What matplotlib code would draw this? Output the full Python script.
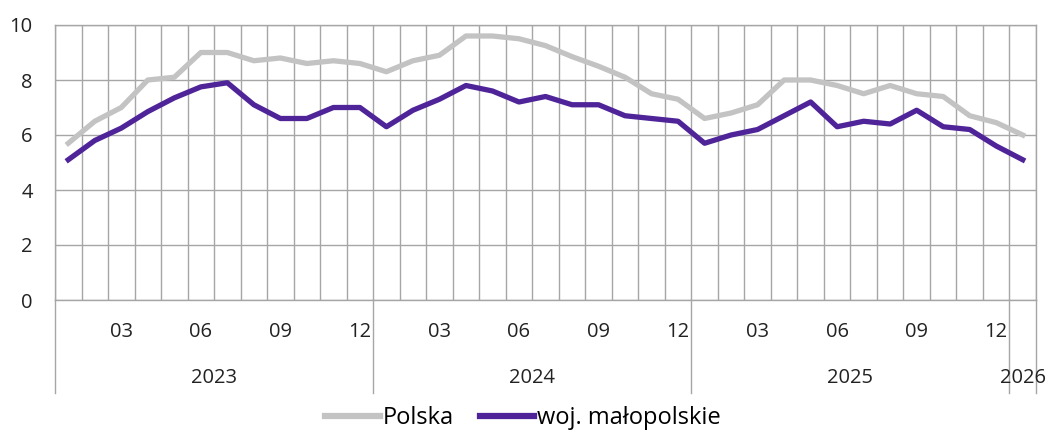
import matplotlib
matplotlib.use("Agg")
import matplotlib.pyplot as plt
import numpy as np

plt.rcParams['font.family'] = ['Open Sans', 'DejaVu Sans']

# monthly data, 2023-01 .. 2026-01
months = ["01", "02", "03", "04", "05", "06", "07", "08", "09", "10", "11", "12"] * 3 + ["01"]
years = ["2023", "2024", "2025", "2026"]
polska = [5.7, 6.5, 7.0, 8.0, 8.1, 9.0, 9.0, 8.7, 8.8, 8.6, 8.7, 8.6,
          8.3, 8.7, 8.9, 9.6, 9.6, 9.5, 9.25, 8.85, 8.5, 8.1, 7.5, 7.3,
          6.6, 6.8, 7.1, 8.0, 8.0, 7.8, 7.5, 7.8, 7.5, 7.4, 6.7, 6.45, 6.0]
malopolskie = [5.1, 5.8, 6.25, 6.85, 7.35, 7.75, 7.9, 7.1, 6.6, 6.6, 7.0, 7.0,
               6.3, 6.9, 7.3, 7.8, 7.6, 7.2, 7.4, 7.1, 7.1, 6.7, 6.6, 6.5,
               5.7, 6.0, 6.2, 6.7, 7.2, 6.3, 6.5, 6.4, 6.9, 6.3, 6.2, 5.6, 5.1]
series_names = ["Polska", "woj. małopolskie"]

grid_col = "#a6a6a6"
col_pl = "#c3c3c3"
col_mp = "#4f2499"

W, H = 1048, 430
fig = plt.figure(figsize=(W / 100, H / 100), dpi=100)
left, right, top, bottom = 55, 1036, 25, 300
ax = fig.add_axes([left / W, 1 - bottom / H, (right - left) / W, (bottom - top) / H])

x = np.arange(len(months))
ax.plot(x, polska, color=col_pl, lw=3.8, solid_joinstyle="round", label=series_names[0])
ax.plot(x, malopolskie, color=col_mp, lw=3.8, solid_joinstyle="round", label=series_names[1])

ax.set_xlim(-0.5, len(months) - 0.5)
ax.set_ylim(0, 10)
ax.set_yticks(np.arange(0, 11, 2))
ax.set_xticks(np.arange(-0.5, len(months), 1))
ax.set_xticklabels([])
ax.grid(True, color=grid_col, lw=1.0)
ax.set_axisbelow(True)
ax.tick_params(length=0, labelsize=14.5, colors="#222222", pad=16)
ax.tick_params(axis="x", pad=0)
for s in ax.spines.values():
    s.set_color(grid_col)
    s.set_linewidth(1.0)

# month labels
trans = ax.get_xaxis_transform()
y_month = (bottom - 332) / (bottom - top)
y_year = (bottom - 378) / (bottom - top)
y_sep = (bottom - 393) / (bottom - top)
for i, m in enumerate(months):
    if m in ("03", "06", "09", "12"):
        ax.text(i, y_month, m, transform=trans, ha="center", va="center",
                fontsize=14.5, color="#222222")

# year labels and separators
for k, yr in enumerate(years):
    start = 12 * k
    end = min(12 * (k + 1), len(months))
    mid = (start + end - 1) / 2
    ax.text(mid, y_year, yr, transform=trans, ha="center", va="center",
            fontsize=14.5, color="#222222")
    ax.plot([start - 0.5, start - 0.5], [0, y_sep], transform=trans,
            color=grid_col, lw=1.0, clip_on=False)
ax.plot([len(months) - 0.5] * 2, [0, y_sep], transform=trans,
        color=grid_col, lw=1.0, clip_on=False)

fig.legend(handles=ax.get_lines()[:2], loc="center", bbox_to_anchor=(523 / W, 1 - 418 / H),
           ncol=2, frameon=False, fontsize=17, handlelength=2.3, handletextpad=0.12,
           columnspacing=1.1, borderpad=0.2)
for lh in fig.legends[0].get_lines():
    lh.set_linewidth(4.5)

fig.savefig("out.png", dpi=100)
